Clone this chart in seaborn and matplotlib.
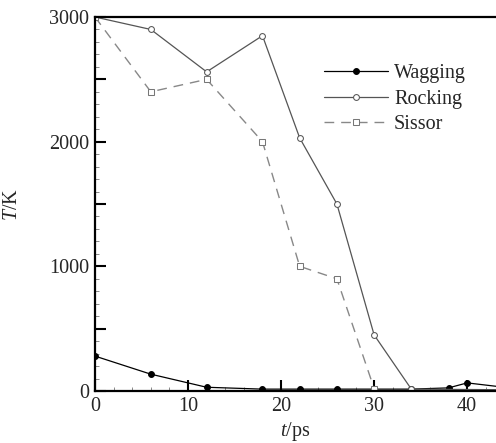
import matplotlib
matplotlib.use("Agg")
import matplotlib.pyplot as plt
from matplotlib.ticker import MultipleLocator, FuncFormatter
import seaborn as sns

# Temperature of each vibrational mode over time
t_wagging = [0, 6, 12, 18, 22, 26, 30, 34, 38, 40, 44]
T_wagging = [280, 135, 30, 15, 15, 15, 15, 15, 25, 65, 30]

t_rocking = [0, 6, 12, 18, 22, 26, 30, 34, 44]
T_rocking = [3000, 2900, 2560, 2850, 2030, 1500, 450, 15, 10]

t_sissor = [0, 6, 12, 18, 22, 26, 30]
T_sissor = [3000, 2400, 2500, 2000, 1000, 900, 20]

sns.set_style("ticks")
plt.rcParams["font.family"] = ["Liberation Serif", "DejaVu Serif"]
plt.rcParams["mathtext.fontset"] = "custom"
plt.rcParams["mathtext.it"] = "Liberation Serif:italic"
plt.rcParams["mathtext.rm"] = "Liberation Serif"

fig = plt.figure(figsize=(4.96, 4.43), dpi=100)
ax = fig.add_axes([95 / 496, 52 / 443, 401 / 496, 374 / 443])

sns.lineplot(x=t_wagging, y=T_wagging, ax=ax, color="black", lw=0.9,
             marker="o", markersize=4.2, markerfacecolor="black",
             markeredgecolor="black", label="Wagging")
sns.lineplot(x=t_rocking, y=T_rocking, ax=ax, color="#555555", lw=0.9,
             marker="o", markersize=4.2, markerfacecolor="white",
             markeredgecolor="#555555", label="Rocking")
sns.lineplot(x=t_sissor, y=T_sissor, ax=ax, color="#888888", lw=1.0,
             linestyle=(0, (7, 5)), marker="s", markersize=3.8,
             markerfacecolor="white", markeredgecolor="#777777",
             label="Sissor")

ax.set_xlim(0, 43.1)
ax.set_ylim(0, 3000)

ax.xaxis.set_major_locator(MultipleLocator(10))
ax.xaxis.set_minor_locator(MultipleLocator(2))
ax.yaxis.set_major_locator(MultipleLocator(500))
ax.yaxis.set_minor_locator(MultipleLocator(100))
ax.yaxis.set_major_formatter(
    FuncFormatter(lambda v, p: f"{int(v)}" if v % 1000 == 0 else ""))

ax.tick_params(which="major", direction="in", length=8, width=1.5,
               labelsize=14.5, color="black", pad=4)
ax.tick_params(which="minor", direction="in", length=3, width=0.6,
               color="#777777")
ax.tick_params(top=False, right=False)

for side in ["left", "bottom", "top"]:
    ax.spines[side].set_linewidth(1.6)
    ax.spines[side].set_color("black")
ax.spines["right"].set_visible(False)

ax.set_xlabel("$\\mathit{t}$/ps", fontsize=14.5, labelpad=3)
ax.set_ylabel("$\\mathit{T}$/K", fontsize=14.5, labelpad=20)

leg = ax.legend(loc="upper left", bbox_to_anchor=(0.55, 0.895), frameon=False,
                fontsize=14.5, handlelength=3.2, handletextpad=0.3,
                labelspacing=0.3, borderaxespad=0)

fig.savefig("out.png", dpi=100)
